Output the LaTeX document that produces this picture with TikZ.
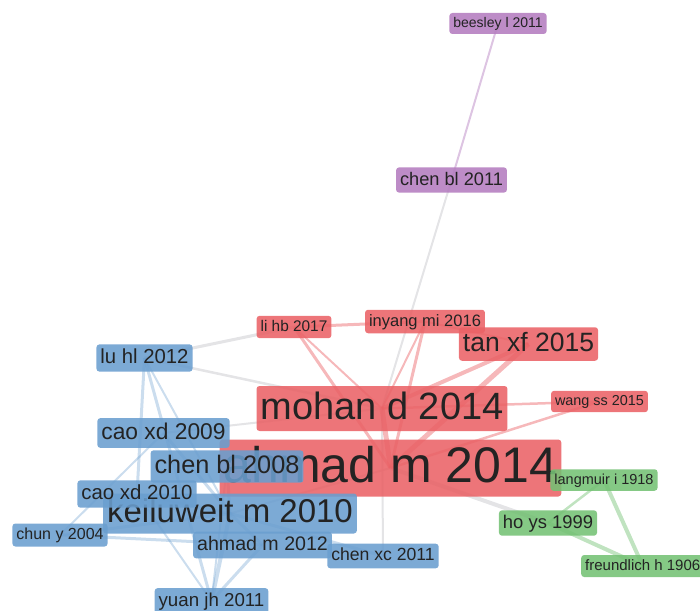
\documentclass[tikz,border=0pt]{standalone}
\usepackage{fontspec}
\setmainfont{Liberation Sans}
\usetikzlibrary{backgrounds}

\definecolor{vred}{RGB}{234,98,102}
\definecolor{vblue}{RGB}{106,158,207}
\definecolor{vgreen}{RGB}{116,193,116}
\definecolor{vpurple}{RGB}{180,124,191}
\definecolor{vgray}{RGB}{205,205,210}
\definecolor{vtext}{RGB}{35,35,35}

\tikzset{
  lbl/.style={font=\fontsize{#1}{#1}\selectfont, text height={0.78*#1pt},
    text depth={0.22*#1pt}, inner xsep=4pt, inner ysep=3.5pt,
    rounded corners=3pt, fill opacity=0.88, text opacity=1, text=vtext},
  cr/.style={fill=vred},
  cb/.style={fill=vblue},
  cg/.style={fill=vgreen},
  cp/.style={fill=vpurple},
  ered/.style={draw=vred, draw opacity=0.45, line width=#1pt},
  eblue/.style={draw=vblue, draw opacity=0.35, line width=#1pt},
  egray/.style={draw=vgray, draw opacity=0.55, line width=#1pt},
  egreen/.style={draw=vgreen, draw opacity=0.45, line width=#1pt},
  epurple/.style={draw=vpurple, draw opacity=0.45, line width=#1pt},
}

\begin{document}
\begin{tikzpicture}[x=1pt, y=-1pt]
\useasboundingbox (0,0) rectangle (700,610);
\clip (0,0) rectangle (700,610);

% labels, larger ones first so that smaller ones sit on top
\node[lbl=50,   cr] (ahm14)  at (390.5,468)  {ahmad m 2014};
\node[lbl=38,   cr] (moh14)  at (382,408.5)  {mohan d 2014};
\node[lbl=33,   cb] (kei10)  at (230,513.5)  {keiluweit m 2010};
\node[lbl=26.5, cr] (tan15)  at (528.5,344)  {tan xf 2015};
\node[lbl=25.3, cb] (chb08)  at (227,466.5)  {chen bl 2008};
\node[lbl=22.8, cb] (cao09)  at (163.5,433)  {cao xd 2009};
\node[lbl=20.3, cb] (lu12)   at (144.5,358)  {lu hl 2012};
\node[lbl=20.4, cb] (cao10)  at (137,494)    {cao xd 2010};
\node[lbl=19.6, cb] (ahm12)  at (262.5,545)  {ahmad m 2012};
\node[lbl=18.7, cb] (yuan11) at (211.5,601)  {yuan jh 2011};
\node[lbl=18.4, cg] (ho99)   at (548,523)    {ho ys 1999};
\node[lbl=18.2, cp] (chb11)  at (451.5,180)  {chen bl 2011};
\node[lbl=17.6, cb] (chxc11) at (383,556)    {chen xc 2011};
\node[lbl=16.5, cr] (iny16)  at (425,321.5)  {inyang mi 2016};
\node[lbl=15,   cg, anchor=west] (fre06) at (581,566) {freundlich h 1906};
\node[lbl=16,   cb] (chun04) at (60,535)     {chun y 2004};
\node[lbl=15.4, cr] (li17)   at (294,327)    {li hb 2017};
\node[lbl=14.5, cg] (lang18) at (604,480)    {langmuir i 1918};
\node[lbl=14.4, cr] (wang15) at (599.5,401.5){wang ss 2015};
\node[lbl=14,   cp] (bee11)  at (498,23.5)   {beesley l 2011};

\begin{scope}[on background layer]
  % links between clusters
  \draw[egray=2]   (chb11.center) -- (moh14.center);
  \draw[egray=3]   (lu12.center)  -- (li17.center);
  \draw[egray=2.5] (lu12.center)  -- (moh14.center);
  \draw[egray=2]   (cao09.center) -- (moh14.center);
  \draw[egray=4]   (ahm14.center) -- (ho99.center);
  \draw[egray=2]   (chxc11.center) -- (moh14.center);
  \draw[egray=2]   (kei10.center) -- (ahm14.center);
  % purple cluster
  \draw[epurple=2] (bee11.center) -- (chb11.center);
  % red cluster
  \draw[ered=5]   (moh14.center) -- (ahm14.center);
  \draw[ered=5]   (tan15.center) -- (ahm14.center);
  \draw[ered=4]   (tan15.center) -- (moh14.center);
  \draw[ered=3]   (iny16.center) -- (ahm14.center);
  \draw[ered=2]   (iny16.center) -- (moh14.center);
  \draw[ered=2]   (iny16.center) -- (tan15.center);
  \draw[ered=3]   (li17.center)  -- (iny16.center);
  \draw[ered=3]   (li17.center)  -- (ahm14.center);
  \draw[ered=2]   (li17.center)  -- (moh14.center);
  \draw[ered=2.5] (wang15.center) -- (ahm14.center);
  \draw[ered=2.5] (wang15.center) -- (moh14.center);
  % green cluster
  \draw[egreen=2.5] (lang18.center) -- (ho99.center);
  \draw[egreen=4]   (lang18.center) -- (fre06.center);
  \draw[egreen=4]   (ho99.center)   -- (fre06.center);
  % blue cluster
  \draw[eblue=3] (lu12.center)   -- (cao10.center);
  \draw[eblue=3] (lu12.center)   -- (yuan11.center);
  \draw[eblue=2] (lu12.center)   -- (kei10.center);
  \draw[eblue=3] (cao09.center)  -- (kei10.center);
  \draw[eblue=2] (cao09.center)  -- (chun04.center);
  \draw[eblue=2] (cao10.center)  -- (yuan11.center);
  \draw[eblue=3] (chun04.center) -- (kei10.center);
  \draw[eblue=3] (chun04.center) -- (ahm12.center);
  \draw[eblue=4] (kei10.center)  -- (yuan11.center);
  \draw[eblue=3] (ahm12.center)  -- (yuan11.center);
  \draw[eblue=2] (chb08.center)  -- (yuan11.center);
  \draw[eblue=3] (kei10.center)  -- (chxc11.center);
  \draw[eblue=3] (chb08.center)  -- (kei10.center);
  \draw[eblue=3] (cao10.center)  -- (kei10.center);
  \draw[eblue=3] (kei10.center)  -- (ahm12.center);
\end{scope}
\end{tikzpicture}
\end{document}
